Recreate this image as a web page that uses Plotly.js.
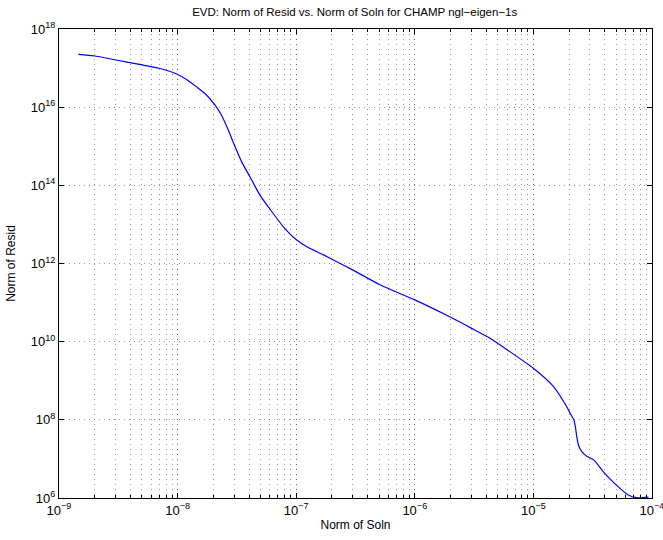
<!DOCTYPE html>
<html>
<head>
<meta charset="utf-8">
<script src="https://cdn.plot.ly/plotly-3.0.1.min.js"></script>
<style>html,body{margin:0;padding:0;background:#fff;}#chart{width:663px;height:540px;}</style>
</head>
<body>
<div id="chart"></div>
<script>
// Norm of Soln (x) and Norm of Resid (y)
const normSoln = [1.455e-9, 2.0e-9, 3.98e-9, 7.11e-9, 9.82e-9, 1.19e-8, 1.445e-8, 1.70e-8, 2.065e-8,
  2.34e-8, 2.67e-8, 3.05e-8, 3.47e-8, 4.07e-8, 4.95e-8, 6.21e-8, 7.8e-8, 1.01e-7, 1.23e-7, 1.70e-7,
  2.06e-7, 3.02e-7, 5.13e-7, 1.0e-6, 1.84e-6, 3.02e-6, 4.17e-6, 5.96e-6, 1.0e-5, 1.48e-5, 1.905e-5,
  2.04e-5, 2.19e-5, 2.26e-5, 2.32e-5, 2.40e-5, 2.57e-5, 2.82e-5, 3.24e-5, 3.89e-5, 5.01e-5, 6.31e-5,
  7.41e-5, 9.33e-5];
const normResid = [2.24e17, 2.04e17, 1.38e17, 9.77e16, 7.08e16, 5.13e16, 3.31e16, 2.24e16, 1.15e16,
  6.3e15, 2.63e15, 9.8e14, 3.98e14, 1.66e14, 5.6e13, 2.14e13, 8.7e12, 3.98e12, 2.69e12, 1.66e12,
  1.23e12, 6.76e11, 2.82e11, 1.17e11, 4.79e10, 2.19e10, 1.29e10, 6.3e9, 2.09e9, 7.08e8, 2.19e8,
  1.48e8, 1.0e8, 6.6e7, 3.7e7, 2.24e7, 1.51e7, 1.17e7, 9.3e6, 4.68e6, 2.14e6, 1.2e6,
  1.02e6, 1.05e6];

const xTickVals = [1e-9, 1e-8, 1e-7, 1e-6, 1e-5, 1e-4];
const xTickText = ['10<sup>−9</sup>', '10<sup>−8</sup>', '10<sup>−7</sup>', '10<sup>−6</sup>', '10<sup>−5</sup>', '10<sup>−4</sup>'];
const yTickVals = [1e6, 1e8, 1e10, 1e12, 1e14, 1e16, 1e18];
const yTickText = ['10<sup>6</sup>', '10<sup>8</sup>', '10<sup>10</sup>', '10<sup>12</sup>', '10<sup>14</sup>', '10<sup>16</sup>', '10<sup>18</sup>'];

const gridCol = 'rgba(0,0,0,0.4)';
const gridDash = '1px,4px';
const fontFam = 'Liberation Sans, Arial, Helvetica, sans-serif';

const trace = {
  x: normSoln, y: normResid, type: 'scatter', mode: 'lines',
  line: {color: '#0000ff', width: 1.2, shape: 'spline', smoothing: 0.6}, hoverinfo: 'skip'
};

const layout = {
  width: 663, height: 540,
  margin: {l: 59, r: 11, t: 29, b: 42},
  paper_bgcolor: '#fff', plot_bgcolor: '#fff',
  showlegend: false,
  font: {family: fontFam, size: 12, color: '#000'},
  title: {text: 'EVD: Norm of Resid vs. Norm of Soln for CHAMP ngl−eigen−1s',
    font: {family: fontFam, size: 11.5, color: '#000'}, x: 0.535, xanchor: 'center', y: 0.985, yanchor: 'top'},
  xaxis: {
    type: 'log', range: [-9, -4], autorange: false,
    tickvals: xTickVals, ticktext: xTickText,
    ticklabeloverflow: 'allow',
    ticks: 'inside', ticklen: 5, tickcolor: '#000', mirror: 'ticks',
    showline: true, linecolor: '#000', linewidth: 1,
    showgrid: true, gridcolor: gridCol, griddash: gridDash, gridwidth: 1,
    zeroline: false,
    tickfont: {size: 13},
    minor: {dtick: 'D1', ticks: 'inside', ticklen: 3, tickcolor: '#000', showgrid: true, gridcolor: gridCol, griddash: gridDash, gridwidth: 1},
    title: {text: 'Norm of Soln', font: {size: 12}, standoff: 4}
  },
  yaxis: {
    type: 'log', range: [6, 18], autorange: false,
    tickvals: yTickVals, ticktext: yTickText,
    ticklabeloverflow: 'allow',
    ticks: 'inside', ticklen: 5, tickcolor: '#000', mirror: 'ticks',
    showline: true, linecolor: '#000', linewidth: 1,
    showgrid: true, gridcolor: gridCol, griddash: gridDash, gridwidth: 1,
    zeroline: false,
    tickfont: {size: 13},
    title: {text: 'Norm of Resid', font: {size: 12}, standoff: 12}
  }
};

Plotly.newPlot('chart', [trace], layout, {displayModeBar: false, staticPlot: true});
</script>
</body>
</html>
